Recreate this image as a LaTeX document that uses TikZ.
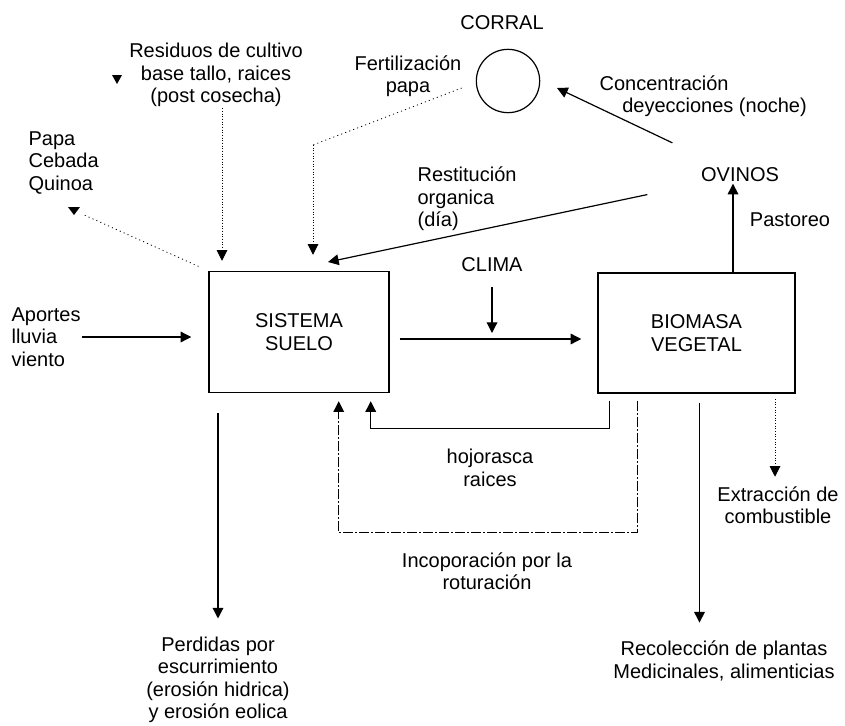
\documentclass[tikz,border=0pt]{standalone}
\usepackage{fontspec}
\setmainfont{Liberation Sans}
\usetikzlibrary{arrows.meta}

\begin{document}
\begin{tikzpicture}[x=0.75pt, y=-0.75pt,
    every node/.style={font=\fontsize{15pt}{16.8pt}\selectfont, inner sep=1pt, align=center},
    box/.style={draw, line width=1.1pt},
    flow/.style={-{Triangle[length=8pt,width=8pt]}, line width=0.9pt},
    dotline/.style={line width=0.6pt, dash pattern=on 0.8pt off 2.4pt},
    dotflow/.style={flow, line width=0.7pt, dash pattern=on 0.8pt off 1.2pt},
    dashflow/.style={flow, line width=0.8pt, dash pattern=on 8pt off 1.5pt on 1pt off 1.5pt}]
    \useasboundingbox (0,0) rectangle (845,725);

    % Boxes
    \node[box, minimum width=135pt, minimum height=90.75pt] (suelo) at (299,332) {SISTEMA\\SUELO};
    \node[box, minimum width=147.75pt, minimum height=90pt] (biomasa) at (696.5,333) {BIOMASA\\VEGETAL};
    \node[draw, circle, line width=0.9pt, minimum size=47.5pt, inner sep=0pt] (corral) at (508,81) {};

    % Labels
    \node (corrallbl) at (502,23) {CORRAL};
    \node (aportes) [anchor=west, align=left] at (10,337) {Aportes\\lluvia\\viento};
    \node (residuos) at (216,75) {Residuos de cultivo\\base tallo, raices\\(post cosecha)};
    \node (fert) at (408,76) {Fertilización\\papa};
    \node (cultivos) [anchor=west, align=left] at (27,163) {Papa\\Cebada\\Quinoa};
    \node (concent) [anchor=west, align=left] at (598,96) {Concentración\\\hspace*{17pt}deyecciones (noche)};
    \node (ovinos) at (740,175) {OVINOS};
    \node (pastoreo) at (790,220) {Pastoreo};
    \node (restit) [anchor=west, align=left] at (416,199) {Restitución\\organica\\(día)};
    \node (clima) at (492,265) {CLIMA};
    \node (hojo) at (490,468) {hojorasca\\raices};
    \node (incop) at (487,571) {Incoporación por la\\roturación};
    \node (perdidas) at (218,680) {Perdidas por\\escurrimiento\\(erosión hidrica)\\y erosión eolica};
    \node (recol) at (724,661) {Recolección de plantas\\Medicinales, alimenticias};
    \node (extrac) at (778,505) {Extracción de\\combustible};

    % Free ends
    \coordinate (climatip) at (492,333);
    \coordinate (fbend) at (313,145);
    \coordinate (ctip) at (557,88);
    \coordinate (rtip) at (328,262);
    \coordinate (cultend) at (82,214);

    % Inputs to the soil
    \draw[flow, shorten >=12.75pt] (aportes.east) -- (aportes.east -| suelo.west);
    \draw[dotflow, shorten >=7.5pt] ([xshift=4.5pt]residuos.south) -- ([xshift=4.5pt]residuos.south |- suelo.north);
    \draw[dotline] ([xshift=-10.5pt,yshift=-5.25pt]corral.west) -- (fbend);
    \draw[dotflow, shorten >=12pt] (fbend) -- (fbend |- suelo.north);
    \draw[dotline, shorten <=8pt] (suelo.north west) -- (cultend);
    \fill (68,207) -- (80,207) -- (74,215) -- cycle;
    \fill (112,75) -- (122,75) -- (117,84) -- cycle;

    % Soil to vegetation
    \draw[flow, shorten <=7.5pt, shorten >=12pt] ([yshift=-5.25pt]suelo.east) -- ([yshift=-5.25pt]suelo.east -| biomasa.west);
    \draw[flow, shorten <=9.75pt] (clima.south) -- (climatip);

    % Sheep
    \draw[flow] ([xshift=-5.25pt]ovinos.south |- biomasa.north) -- ([xshift=-5.25pt]ovinos.south);
    \draw[flow, shorten <=41pt] (ovinos) -- (ctip);
    \draw[flow, shorten <=40pt] (ovinos) -- (rtip);

    % Returns to the soil
    \draw[flow] ([xshift=9pt,yshift=-5.25pt]biomasa.south west) -- ++(0,28) -| ([xshift=-14.25pt,yshift=-6pt]suelo.south east);
    \draw[dashflow] ([xshift=30pt,yshift=-5.25pt]biomasa.south west) -- ++(0,132) -| ([xshift=-38.25pt,yshift=-6pt]suelo.south east);

    % Outputs
    \draw[flow, shorten <=15pt, shorten >=12.75pt] (perdidas.north |- suelo.south) -- (perdidas.north);
    \draw[flow, shorten <=6.75pt, shorten >=12.75pt] ([xshift=2.25pt]biomasa.south) -- ([xshift=2.25pt]biomasa.south |- recol.north);
    \draw[dotflow, shorten <=4pt, shorten >=6pt] ([xshift=-2.25pt]extrac.north |- biomasa.south) -- ([xshift=-2.25pt]extrac.north);
\end{tikzpicture}
\end{document}
